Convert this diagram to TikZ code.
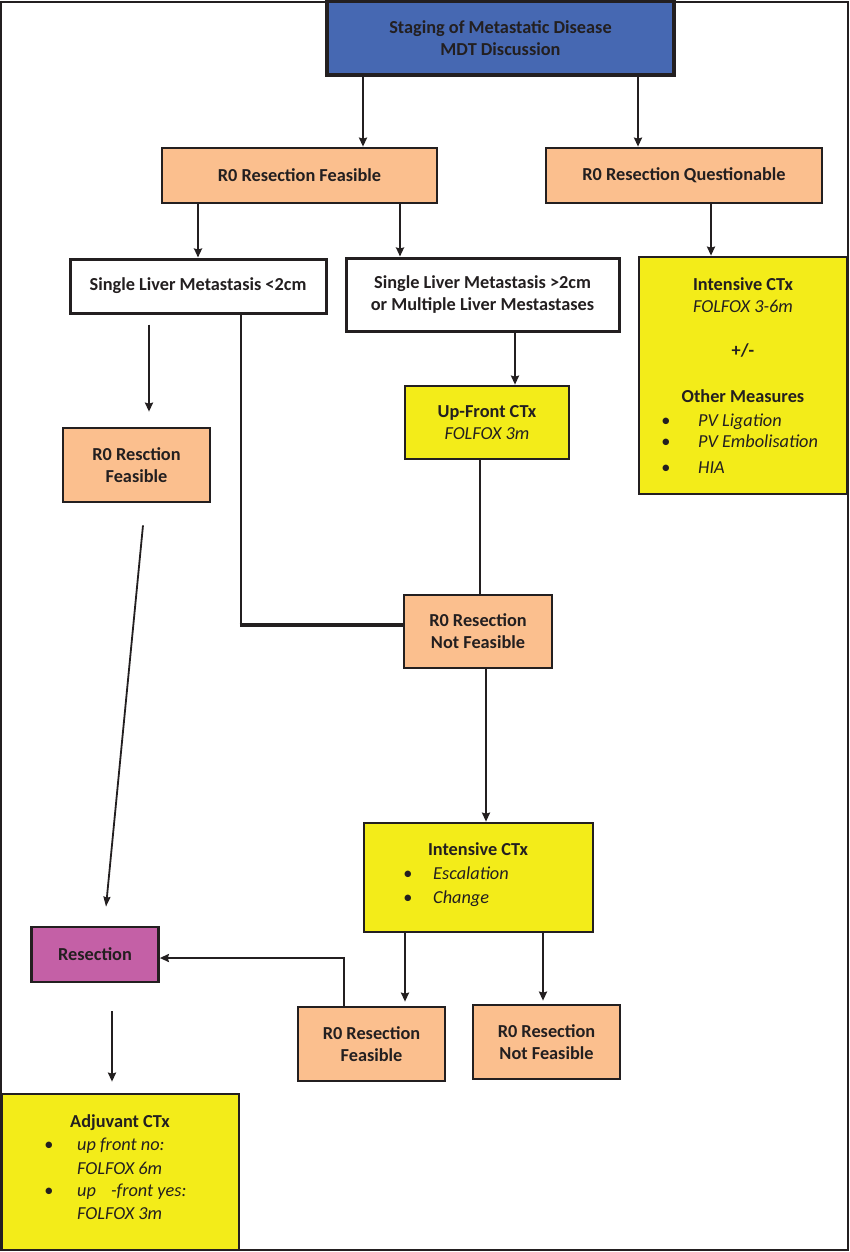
\documentclass[tikz,border=0pt]{standalone}
\usepackage{fontspec}
\setmainfont{Carlito}
\usetikzlibrary{arrows.meta,calc}
\definecolor{cblue}{HTML}{4668B2}
\definecolor{cpeach}{HTML}{FBBF8E}
\definecolor{cyel}{HTML}{F3EC19}
\definecolor{cmag}{HTML}{C460A6}
\definecolor{cline}{HTML}{231F20}
\newcommand\diafs{\fontsize{18.3}{22}\selectfont}
\begin{document}
\begin{tikzpicture}[x=1pt,y=-1pt,
  box/.style={draw=cline, line width=2.7pt, inner sep=0pt, align=center,
    font=\diafs\bfseries, text=cline},
  peach/.style={box, fill=cpeach},
  yel/.style={box, fill=cyel},
  txt/.style={inner sep=0pt, font=\diafs, text=cline},
  arr/.style={draw=cline, line width=2.8pt, -{Stealth[length=9pt,width=8pt,inset=1pt]}},
  ln/.style={draw=cline, line width=2.8pt},
  thinarr/.style={draw=cline, line width=1.8pt, -{Stealth[length=10pt,width=7pt,inset=1pt]}}]
\useasboundingbox (0,0) rectangle (850,1252);
\fill[white] (0,0) rectangle (850,1252);
\draw[cline, line width=1.3pt] (1,2) rectangle (848,1250);

% boxes
\node[box, fill=cblue, line width=4pt, minimum width=347pt, minimum height=74pt] (st) at (500.5,38) {Staging of Metastatic Disease\\MDT Discussion};
\node[peach, minimum width=275pt, minimum height=55pt] (rf) at (299.5,175.5) {R0 Resection Feasible};
\node[peach, minimum width=276pt, minimum height=55pt] (rq) at (684,175.5) {R0 Resection Questionable};
\node[box, fill=white, line width=3pt, minimum width=256pt, minimum height=54pt] (s1) at (198,286) {Single Liver Metastasis <2cm};
\node[box, fill=white, line width=3pt, minimum width=273pt, minimum height=73pt] (s2) at (482.5,294.5) {Single Liver Metastasis >2cm\\or Multiple Liver Mestastases};
\node[yel, minimum width=208pt, minimum height=237pt] (ir) at (743,375.5) {};
\node[yel, minimum width=164pt, minimum height=73pt] (uf) at (487,422.5) {Up-Front CTx\\\itshape\mdseries FOLFOX 3m};
\node[peach, minimum width=147pt, minimum height=74pt] (rf1) at (136.5,465) {R0 Resction\\Feasible};
\node[peach, minimum width=148pt, minimum height=73pt] (nf1) at (478,631.5) {R0 Resection\\Not Feasible};
\node[yel, minimum width=229pt, minimum height=109pt] (im) at (478.5,877.5) {};
\node[box, fill=cmag, minimum width=127pt, minimum height=55pt] (res) at (95,954.5) {Resection};
\node[peach, minimum width=147pt, minimum height=74pt] (rf2) at (371.5,1044) {R0 Resection\\Feasible};
\node[peach, minimum width=147pt, minimum height=74pt] (nf2) at (546.5,1042) {R0 Resection\\Not Feasible};
\node[yel, minimum width=237pt, minimum height=156pt] (adj) at (120.5,1172) {};

% texts of right intensive box
\node[txt, font=\diafs\bfseries, anchor=base] (ir1) at (743,290) {Intensive CTx};
\node[txt, font=\diafs\itshape, anchor=base] (ir2) at (743,312) {FOLFOX 3-6m};
\node[txt, font=\diafs\bfseries, anchor=base] (ir3) at (743,356) {+/-};
\node[txt, font=\diafs\bfseries, anchor=base] (ir4) at (743,402) {Other Measures};
\node[txt, anchor=base] (irb1) at (666,426) {\textbullet};
\node[txt, anchor=base] (irb2) at (666,447) {\textbullet};
\node[txt, anchor=base] (irb3) at (666,473) {\textbullet};
\node[txt, font=\diafs\itshape, anchor=base west] (ir5) at (698,426) {PV Ligation};
\node[txt, font=\diafs\itshape, anchor=base west] (ir6) at (698,447) {PV Embolisation};
\node[txt, font=\diafs\itshape, anchor=base west] (ir7) at (698,473) {HIA};

% texts of middle intensive box
\node[txt, font=\diafs\bfseries, anchor=base] (im1) at (478,855) {Intensive CTx};
\node[txt, anchor=base] (imb1) at (408,879) {\textbullet};
\node[txt, anchor=base] (imb2) at (408,903) {\textbullet};
\node[txt, font=\diafs\itshape, anchor=base west] (im2) at (433,879) {Escalation};
\node[txt, font=\diafs\itshape, anchor=base west] (im3) at (433,903) {Change};

% texts of adjuvant box
\node[txt, font=\diafs\bfseries, anchor=base] (ad1) at (120,1127) {Adjuvant CTx};
\node[txt, anchor=base] (adb1) at (49,1150) {\textbullet};
\node[txt, anchor=base] (adb2) at (49,1196) {\textbullet};
\node[txt, font=\diafs\itshape, anchor=base west] (ad2) at (77,1150) {up front no:};
\node[txt, font=\diafs\itshape, anchor=base west] (ad3) at (77,1174) {FOLFOX 6m};
\node[txt, font=\diafs\itshape, anchor=base west] (ad4) at (77,1196) {up\hspace{11pt} -front yes:};
\node[txt, font=\diafs\itshape, anchor=base west] (ad5) at (77,1219) {FOLFOX 3m};

% x positions
\coordinate (x363) at (363,0);
\coordinate (x638) at (638,0);
\coordinate (x198) at (198,0);
\coordinate (x400) at (400,0);
\coordinate (x711) at (711,0);
\coordinate (x149) at (149,0);
\coordinate (x241) at (241,0);
\coordinate (x515) at (515,0);
\coordinate (x480) at (480,0);
\coordinate (x486) at (486,0);
\coordinate (x405) at (405,0);
\coordinate (x543) at (543,0);
\coordinate (x344) at (344,0);
\coordinate (x112) at (112,0);

% connectors
\draw[arr] (st.south -| x363) -- (rf.north -| x363);
\draw[arr] (st.south -| x638) -- (rq.north -| x638);
\draw[arr] (rf.south -| x198) -- (s1.north -| x198);
\draw[arr] (rf.south -| x400) -- (s2.north -| x400);
\draw[arr] (rq.south -| x711) -- (ir.north -| x711);

\coordinate (a6s) at ($(s1.south -| x149)+(0,10)$);
\coordinate (a6e) at ($(rf1.north -| x149)+(0,-15)$);
\draw[arr] (a6s) -- (a6e);

\coordinate (h7) at ([yshift=6.5pt]nf1.west);
\coordinate (c7) at (h7 -| x241);
\draw[ln] (s1.south -| x241) -- (c7);
\draw[draw=cline, line width=3.8pt] ([xshift=-1.4pt]c7) -- (h7);

\draw[arr] (s2.south -| x515) -- (uf.north -| x515);
\draw[ln] (uf.south -| x480) -- (nf1.north -| x480);

\coordinate (d1) at ($(rf1.south)+(6.5,22)$);
\coordinate (d2) at ($(res.north)+(11,-19)$);
\draw[thinarr] (d1) -- (d2);

\draw[arr] (nf1.south -| x486) -- (im.north -| x486);
\draw[arr, shorten >=4pt] (im.south -| x405) -- (rf2.north -| x405);
\draw[arr, shorten >=3pt] (im.south -| x543) -- (nf2.north -| x543);

\coordinate (h14) at ([yshift=-3.5pt]res.east);
\draw[arr] (rf2.north -| x344) |- (h14);

\coordinate (r1) at ($(res.south -| x112)+(0,28)$);
\coordinate (r2) at ($(adj.north -| x112)+(0,-11)$);
\draw[arr] (r1) -- (r2);
\end{tikzpicture}
\end{document}
